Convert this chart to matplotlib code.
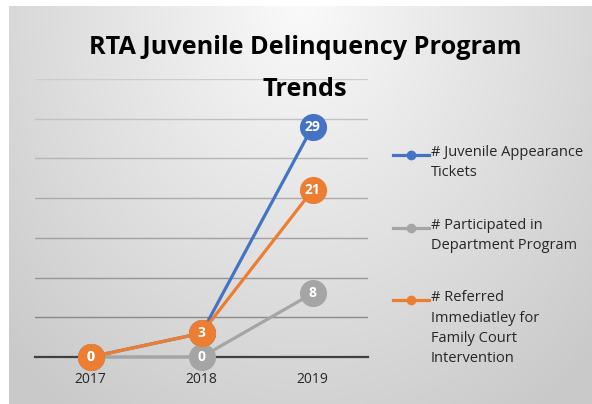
import numpy as np
import matplotlib.pyplot as plt
from matplotlib.lines import Line2D

# Data
years = ['2017', '2018', '2019']
tickets = [0, 3, 29]
participated = [0, 0, 8]
referred = [0, 3, 21]
series_names = ['# Juvenile Appearance\nTickets',
                '# Participated in\nDepartment Program',
                '# Referred\nImmediatley for\nFamily Court\nIntervention']

blue = '#4472C4'
gray = '#A5A5A5'
orange = '#ED7D31'

fig = plt.figure(figsize=(5.92, 4.04), dpi=100)
fig.patch.set_facecolor('white')

# gradient background for the chart area
bg = fig.add_axes([9/592, 0, 1 - 9/592, 1 - 6/404])
gx, gy = np.meshgrid(np.linspace(-1, 1, 300), np.linspace(0, 1, 200))
dist = np.sqrt((gx / 1.1) ** 2 + (gy / 0.95) ** 2)
shade = 0.98 - 0.19 * np.clip(dist, 0, 1.3) / 1.3
bg.imshow(np.dstack([shade] * 3), extent=[0, 1, 0, 1], origin='upper', aspect='auto')
bg.axis('off')

ax = fig.add_axes([35/592, 1 - 357/404, (368 - 35)/592, (357 - 79)/404])
ax.patch.set_alpha(0)
x = np.arange(len(years))

ax.plot(x, tickets, color=blue, lw=2.3, marker='o', ms=18.5, zorder=3, clip_on=False)
ax.plot(x, participated, color=gray, lw=2.3, marker='o', ms=18.5, zorder=4, clip_on=False)
ax.plot(x, referred, color=orange, lw=2.3, marker='o', ms=18.5, zorder=5, clip_on=False)

for vals, z in [(tickets, 6), (participated, 7), (referred, 8)]:
    for i, v in enumerate(vals):
        if vals is tickets and i < 2:
            continue
        ax.text(x[i], v, str(v), color='white', fontsize=10, fontweight='bold',
                ha='center', va='center', zorder=z, family='Open Sans')

ax.set_xlim(-0.5, 2.5)
ax.set_ylim(0, 35)
ax.set_yticks(np.arange(0, 36, 5))
ax.yaxis.grid(True, lw=1)
# gridlines fade towards the top like the original
glines = ax.get_ygridlines()
for k, gl in enumerate(glines):
    g = 0.50 + 0.30 * k / (len(glines) - 1)
    gl.set_color((g, g, g))
ax.set_axisbelow(True)
ax.tick_params(axis='y', left=False, labelleft=False)
ax.tick_params(axis='x', length=0, pad=11, labelsize=10, labelcolor='#262626')
ax.set_xticks(x)
ax.set_xticklabels(years, family='Open Sans')
for s in ['top', 'right', 'left']:
    ax.spines[s].set_visible(False)
ax.spines['bottom'].set_color('#404040')
ax.spines['bottom'].set_linewidth(1.6)
ax.spines['bottom'].set_zorder(2)

fig.text(305/592, 1 - 48/404, 'RTA Juvenile Delinquency Program', ha='center', va='center',
         fontsize=18.2, fontweight='bold', family='Open Sans')
fig.text(305/592, 1 - 89/404, 'Trends', ha='center', va='center',
         fontsize=18.2, fontweight='bold', family='Open Sans')

# legend drawn by hand
leg_y = [155, 228, 300]
for col, name, yy in zip([blue, gray, orange], series_names, leg_y):
    fy = 1 - yy / 404
    fig.add_artist(Line2D([393/592, 429/592], [fy, fy], color=col, lw=2.3,
                          transform=fig.transFigure))
    fig.add_artist(Line2D([411/592], [fy], color=col, marker='o', ms=6,
                          transform=fig.transFigure))
    fig.text(431/592, fy + 10/404, name, ha='left', va='top', fontsize=10.5,
             color='#262626', family='Open Sans', linespacing=1.5)

fig.savefig('out.png', dpi=100)
